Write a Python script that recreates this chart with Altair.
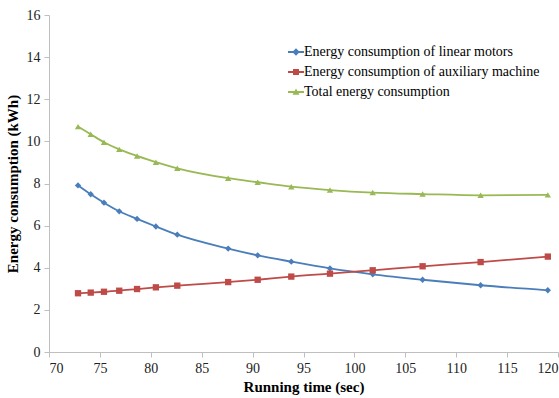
import altair as alt
import pandas as pd

running_time = [72.85, 74.1, 75.4, 76.9, 78.65, 80.5, 82.6, 87.6, 90.5, 93.8, 97.6, 101.8, 106.7, 112.4, 119.0]
linear_motors = [7.91, 7.49, 7.09, 6.68, 6.32, 5.96, 5.57, 4.91, 4.59, 4.29, 3.97, 3.69, 3.43, 3.17, 2.93]
auxiliary = [2.79, 2.82, 2.86, 2.91, 2.99, 3.07, 3.15, 3.32, 3.43, 3.58, 3.72, 3.88, 4.07, 4.27, 4.53]
total = [10.70, 10.34, 9.96, 9.62, 9.31, 9.01, 8.72, 8.25, 8.06, 7.85, 7.69, 7.57, 7.50, 7.44, 7.46]

series_names = [
    "Energy consumption of linear motors",
    "Energy consumption of auxiliary machine",
    "Total energy consumption",
]
colors = ["#4a7ebb", "#be4b48", "#98b954"]

rows = []
for name, vals in zip(series_names, [linear_motors, auxiliary, total]):
    for t, v in zip(running_time, vals):
        rows.append({"time": t, "energy": v, "series": name})
df = pd.DataFrame(rows)

FONT = "Liberation Serif, Times New Roman, DejaVu Serif, serif"

x_enc = alt.X("time:Q", scale=alt.Scale(domain=[70, 120], nice=False),
              axis=alt.Axis(title="Running time (sec)", values=list(range(70, 121, 5))))
y_enc = alt.Y("energy:Q", scale=alt.Scale(domain=[0, 16], nice=False),
              axis=alt.Axis(title="Energy consumption (kWh)", values=list(range(0, 17, 2))))
color_scale = alt.Scale(domain=series_names, range=colors)

lines = alt.Chart(df).mark_line(interpolate="monotone", strokeWidth=1.8).encode(
    x=x_enc, y=y_enc,
    color=alt.Color("series:N", scale=color_scale, legend=None),
    detail="series:N",
)

points = alt.Chart(df).mark_point(filled=True, opacity=1, size=40).encode(
    x=x_enc, y=y_enc,
    color=alt.Color("series:N", scale=color_scale, legend=None),
    shape=alt.Shape("series:N", scale=alt.Scale(domain=series_names,
                    range=["diamond", "square", "triangle-up"]), legend=None),
)

legend_paths = [
    "M-1.6,-0.2H1.6V0.2H-1.6Z M0,-0.75L0.75,0L0,0.75L-0.75,0Z",
    "M-1.6,-0.2H1.6V0.2H-1.6Z M-0.6,-0.6H0.6V0.6H-0.6Z",
    "M-1.6,-0.2H1.6V0.2H-1.6Z M0,-0.7L0.7,0.55L-0.7,0.55Z",
]
leg = alt.Legend(title=None, orient="none", legendX=240, legendY=30,
                 labelFont=FONT, labelFontSize=14, labelColor="#000", labelLimit=0,
                 symbolSize=100, symbolOpacity=1, rowPadding=6, labelOffset=1,
                 symbolStrokeWidth=0)

legend_layer = alt.Chart(df).mark_point(filled=True, opacity=0, size=40).encode(
    x=x_enc, y=y_enc,
    color=alt.Color("series:N", scale=color_scale, legend=leg),
    shape=alt.Shape("series:N", scale=alt.Scale(domain=series_names, range=legend_paths), legend=leg),
)

chart = alt.layer(lines, points, legend_layer).resolve_scale(
    shape="independent"
).resolve_legend(color="independent", shape="independent").properties(
    width=559, height=398,
    autosize=alt.AutoSizeParams(type="fit", contains="padding"),
    padding={"left": 5, "top": 8, "right": 0, "bottom": 4},
).configure(font=FONT).configure_view(stroke=None).configure_axis(
    grid=False, domainColor="#bfbfbf", tickColor="#bfbfbf", tickSize=5,
    labelFont=FONT, labelFontSize=14, labelColor="#222",
    titleFont=FONT, titleFontSize=15, titleFontWeight="bold", titleColor="#000",
).configure_axisY(titlePadding=6, labelPadding=4).configure_axisX(titlePadding=4, labelPadding=4)

chart.save("out.html", embed_options={"renderer": "svg", "actions": False})
